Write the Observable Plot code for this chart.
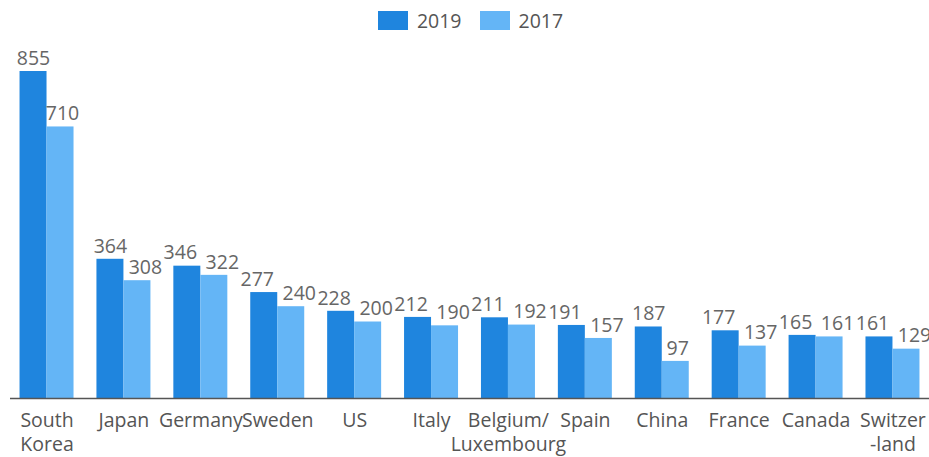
<!DOCTYPE html>
<html>
<head>
<meta charset="utf-8">
<script src="https://cdn.jsdelivr.net/npm/d3@7"></script>
<script src="https://cdn.jsdelivr.net/npm/@observablehq/plot@0.6"></script>
<style>
  body { margin: 0; background: #fff; font-family: "Open Sans", sans-serif; }
  #legend { height: 40px; display: flex; justify-content: center; align-items: center; padding-left: 12px; box-sizing: border-box; font-size: 19.5px; color: #555; }
  .item { display: flex; align-items: center; margin: 0 9px; }
  .sw { width: 30px; height: 19px; margin-right: 9px; }
</style>
</head>
<body>
<div id="legend"></div>
<div id="chart"></div>
<script>
const countries = ["South Korea", "Japan", "Germany", "Sweden", "US", "Italy", "Belgium/Luxembourg", "Spain", "China", "France", "Canada", "Switzerland"];
const tickLabels = ["South\nKorea", "Japan", "Germany", "Sweden", "US", "Italy", "Belgium/\nLuxembourg", "Spain", "China", "France", "Canada", "Switzer\n-land"];
const values2019 = [855, 364, 346, 277, 228, 212, 211, 191, 187, 177, 165, 161];
const values2017 = [710, 308, 322, 240, 200, 190, 192, 157, 97, 137, 161, 129];
const seriesNames = ["2019", "2017"];
const seriesColors = ["#1f85de", "#64b5f6"];

const legend = document.getElementById("legend");
seriesNames.forEach((s, i) => {
  const it = document.createElement("div");
  it.className = "item";
  it.innerHTML = `<span class="sw" style="background:${seriesColors[i]}"></span><span>${s}</span>`;
  legend.appendChild(it);
});

const d19 = countries.map((c, i) => ({country: c, value: values2019[i], other: values2017[i]}));
const d17 = countries.map((c, i) => ({country: c, value: values2017[i], other: values2019[i]}));
const labelOf = new Map(countries.map((c, i) => [c, tickLabels[i]]));
const maxV = d3.max([...values2019, ...values2017]);
const half = 27;

// labels of a pair that sit close in height are nudged apart
const near = d => Math.abs(d.value - d.other) < 50;
const mid = d => Math.abs(d.value - d.other) < 80;

const chart = Plot.plot({
  width: 929,
  height: 417,
  marginLeft: 10,
  marginRight: 0,
  marginTop: 31,
  marginBottom: 59,
  style: { fontFamily: "Open Sans, sans-serif", background: "#fff", overflow: "visible" },
  x: { domain: countries, paddingInner: 0.298, paddingOuter: 0.124, round: false, label: null },
  y: { domain: [0, maxV], axis: null },
  marks: [
    Plot.barY(d19, { x: "country", y: "value", fill: seriesColors[0], insetRight: half }),
    Plot.barY(d17, { x: "country", y: "value", fill: seriesColors[1], insetLeft: half }),
    Plot.text(d19.filter(near), { x: "country", y: "value", text: d => String(d.value), dx: -half / 2 - 7, dy: -13, fontSize: 19.5, fill: "#666" }),
    Plot.text(d19.filter(d => !near(d)), { x: "country", y: "value", text: d => String(d.value), dx: -half / 2, dy: -13, fontSize: 19.5, fill: "#666" }),
    Plot.text(d17.filter(mid), { x: "country", y: "value", text: d => String(d.value), dx: half / 2 + 8, dy: -13, fontSize: 19.5, fill: "#666" }),
    Plot.text(d17.filter(d => !mid(d)), { x: "country", y: "value", text: d => String(d.value), dx: half / 2 + 2, dy: -13, fontSize: 19.5, fill: "#666" }),
    Plot.ruleY([0], { stroke: "#555", strokeWidth: 1.3 }),
    Plot.axisX({ tickSize: 0, tickPadding: 12, fontSize: 19.5, lineHeight: 1.2, fill: "#555", tickFormat: d => labelOf.get(d), label: null })
  ]
});
document.getElementById("chart").appendChild(chart);
</script>
</body>
</html>
